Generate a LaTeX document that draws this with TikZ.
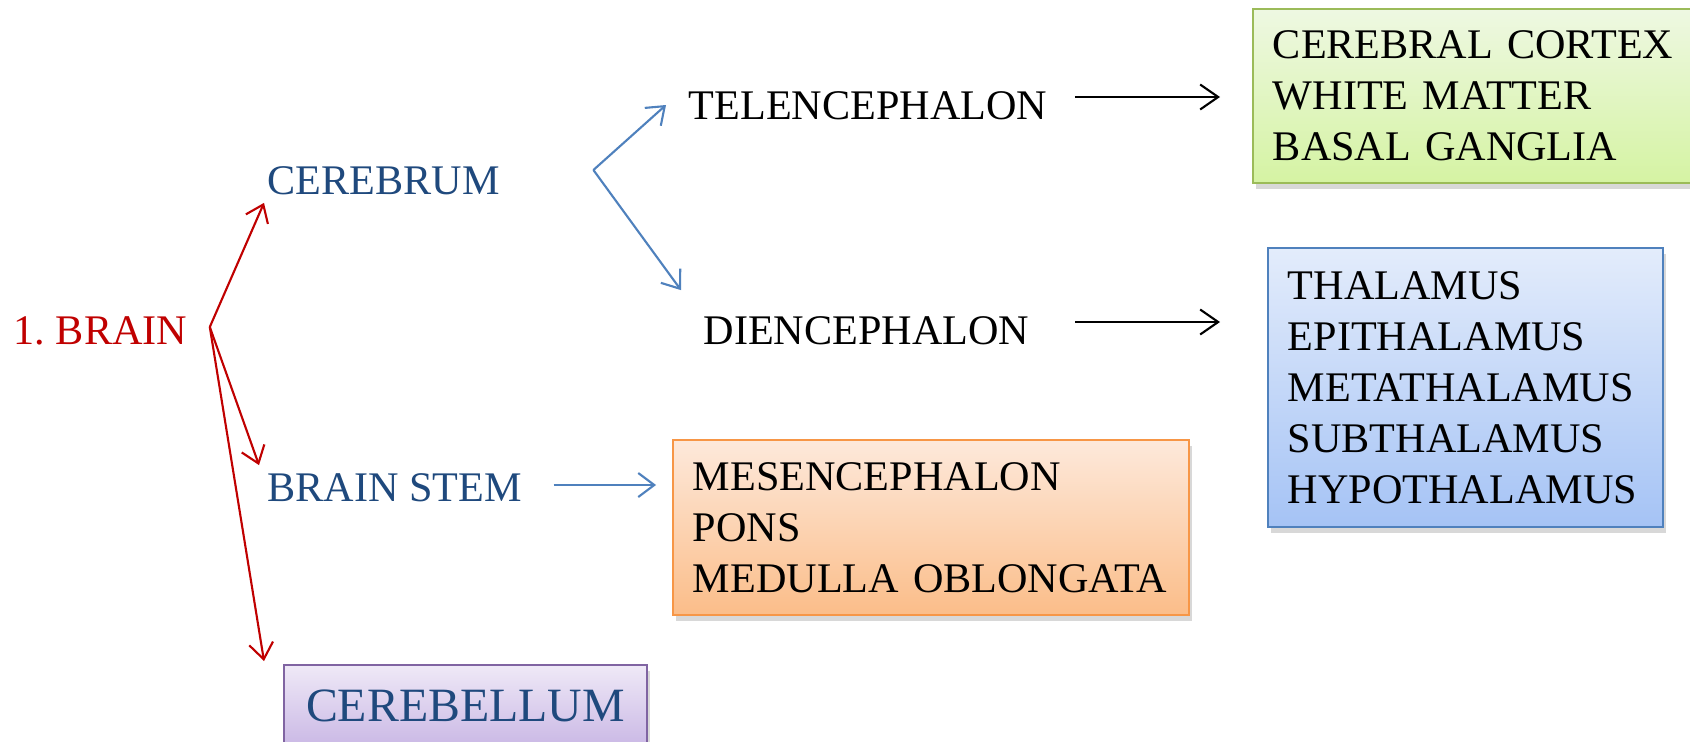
\documentclass[tikz,border=0pt]{standalone}
\usepackage{fontspec}
\setmainfont{Liberation Serif}
\frenchspacing
\usetikzlibrary{arrows.meta,shadows,backgrounds,calc}
\definecolor{brainred}{HTML}{C00000}
\definecolor{navy}{HTML}{1F497D}
\definecolor{steel}{HTML}{4F81BD}
\definecolor{greenline}{HTML}{9BBB59}
\definecolor{greentop}{HTML}{EEF8E2}
\definecolor{greenbot}{HTML}{D5F3A3}
\definecolor{blueline}{HTML}{4F81BD}
\definecolor{bluetop}{HTML}{E3ECFB}
\definecolor{bluebot}{HTML}{A5C3F5}
\definecolor{orangeline}{HTML}{F79646}
\definecolor{orangetop}{HTML}{FDE9DB}
\definecolor{orangebot}{HTML}{FBBD89}
\definecolor{purpleline}{HTML}{8064A2}
\definecolor{purpletop}{HTML}{EFE9F7}
\definecolor{purplebot}{HTML}{CAB8E5}

\begin{document}
\begin{tikzpicture}[
    x=0.1mm, y=-0.1mm,
    term/.style={anchor=west, inner sep=0pt, font=\fontsize{12}{14.5}\selectfont},
    part/.style={term, text=navy},
    box/.style={rectangle, anchor=north west, line width=0.5pt, inner xsep=2mm, inner ysep=0pt,
                align=left, font=\fontsize{12}{14.5}\selectfont,
                drop shadow={shadow xshift=0.3mm, shadow yshift=-0.6mm, opacity=0.3}},
    greenbox/.style={box, draw=greenline, top color=greentop, bottom color=greenbot},
    bluebox/.style={box, draw=blueline, top color=bluetop, bottom color=bluebot},
    orangebox/.style={box, draw=orangeline, top color=orangetop, bottom color=orangebot},
    purplebox/.style={box, draw=purpleline, top color=purpletop, bottom color=purplebot},
    redarrow/.style={draw=brainred, line width=0.6pt, -{Straight Barb[length=1.6mm, width=2.4mm]}},
    bluearrow/.style={draw=steel, line width=0.6pt, -{Straight Barb[length=1.6mm, width=2.4mm]}},
    blackarrow/.style={draw=black, line width=0.6pt, -{Straight Barb[length=1.8mm, width=2.5mm]}},
  ]

  % Seitenmaße fest, weißer Grund dahinter
  \useasboundingbox (0,0) rectangle (1690,741);
  \begin{scope}[on background layer]
    \fill[white] (0,0) rectangle (1690,741);
  \end{scope}

  % Beschriftungen
  \node[term, text=brainred] (brain) at (13,331) {1. BRAIN};
  \node[part] (cerebrum) at (267,181) {CEREBRUM};
  \node[part] (brainstem) at (267,488) {BRAIN STEM};
  \node[term] (tele) at (688,106) {TELENCEPHALON};
  \node[term] (dien) at (703,331) {DIENCEPHALON};

  % Kästen
  \node[greenbox, text width=45mm, minimum height=17.4mm] (cortex) at (1252,8)
    {CEREBRAL CORTEX\\WHITE MATTER\\BASAL GANGLIA};
  \node[bluebox, text width=35.5mm, minimum height=27.9mm] (thal) at (1267,247)
    {THALAMUS\\EPITHALAMUS\\METATHALAMUS\\SUBTHALAMUS\\HYPOTHALAMUS};
  \node[orangebox, text width=47.6mm, minimum height=17.5mm] (mesen) at (672,439)
    {MESENCEPHALON\\PONS\\MEDULLA OBLONGATA};
  \node[purplebox, align=center, text width=32.3mm, minimum height=8.2mm, text=navy,
        font=\fontsize{13.6}{16}\selectfont] (cerebellum) at (283,664) {CEREBELLUM};

  % Verzweigungen
  \coordinate (bfork) at ($(brain.east)+(22,-4)$);
  \coordinate (cfork) at ($(cerebrum.east)+(93,-11)$);

  \draw[redarrow] (bfork) -- ($(cerebrum.south west)+(-3,7)$);
  \draw[redarrow] (bfork) -- ($(brainstem.north west)+(-8,-8)$);
  \draw[redarrow] (bfork) -- ($(cerebellum.north west)+(-19,-3)$);

  \draw[bluearrow] (cfork) -- ($(tele.west)+(-22,-1)$);
  \draw[bluearrow] (cfork) -- ($(dien.north west)+(-22,-26)$);
  \draw[bluearrow] ($(brainstem.east)+(31,-3)$) -- ($(mesen.north west)+(-16,46)$);

  \draw[blackarrow] ($(tele.east)+(27,-9)$) -- ($(cortex.north west)+(-32,89)$);
  \draw[blackarrow] ($(dien.east)+(45,-9)$) -- ($(thal.north west)+(-47,75)$);

\end{tikzpicture}
\end{document}
